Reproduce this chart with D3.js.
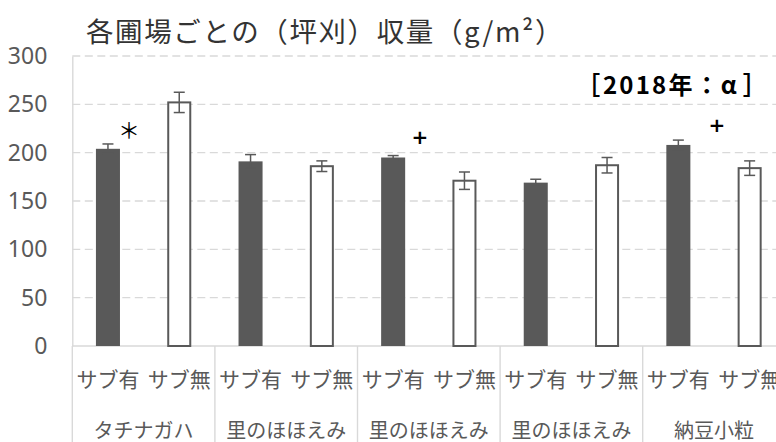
<!DOCTYPE html>
<html>
<head>
<meta charset="utf-8">
<script src="https://cdn.jsdelivr.net/npm/d3@7"></script>
<style>
  html, body { margin: 0; padding: 0; background: #fff; overflow: hidden; }
  svg { display: block; font-family: "Noto Sans CJK JP", "Noto Sans", sans-serif; }
</style>
</head>
<body>
<svg id="chart" width="776" height="442"></svg>
<script>
// Yield per field (tsubo-gari), g/m², 2018 season
const varieties = ["タチナガハ", "里のほほえみ", "里のほほえみ", "里のほほえみ", "納豆小粒"];
const treatments = ["サブ有", "サブ無"];
const withSub    = [204, 191, 195, 169, 208];
const withoutSub = [252, 186, 171, 187, 184];
const errWith    = [5, 7, 2, 3.5, 5];
const errWithout = [10.5, 5.5, 9, 8, 7.5];
const yTicks = [0, 50, 100, 150, 200, 250, 300];
const sigMarks = ["＊", "+", "+"];
const sigGroups = [0, 2, 4];
const sigLevels = [226, 216, 229];
const title = "各圃場ごとの（坪刈）収量（g/m²）";
const yearLabel = "2018年：α";

const rows = [];
varieties.forEach((v, i) => {
  rows.push({ g: i, t: treatments[0], value: withSub[i], err: errWith[i] });
  rows.push({ g: i, t: treatments[1], value: withoutSub[i], err: errWithout[i] });
});

const svg = d3.select("#chart");
const plot = { left: 72.3, top: 56, bottom: 346, groupW: 142.6 };

const x0 = d3.scaleBand()
  .domain(d3.range(varieties.length))
  .range([plot.left, plot.left + plot.groupW * varieties.length])
  .padding(0);
const x1 = d3.scaleBand()
  .domain(treatments)
  .range([0, x0.bandwidth()])
  .paddingInner(0.663)
  .paddingOuter(0.3315);
const y = d3.scaleLinear().domain([0, 300]).range([plot.bottom, plot.top]);

const grey = "#595959";
const light = "#d9d9d9";

// dashed horizontal gridlines
svg.append("g")
  .selectAll("line")
  .data(yTicks.filter(d => d > 0))
  .join("line")
  .attr("x1", plot.left).attr("x2", 776)
  .attr("y1", d => y(d)).attr("y2", d => y(d))
  .attr("stroke", light).attr("stroke-width", 1.4)
  .attr("stroke-dasharray", "8,4.5");

// y axis
const yAxis = svg.append("g")
  .attr("transform", `translate(${plot.left},0)`)
  .call(d3.axisLeft(y).tickValues(yTicks).tickSize(0).tickPadding(25));
yAxis.select(".domain").attr("stroke", light).attr("stroke-width", 1.4);
yAxis.selectAll("text")
  .attr("fill", grey)
  .style("font-size", "23px")
  .style("font-family", "'Noto Sans', sans-serif");

// category axis baseline and group separators
svg.append("line")
  .attr("x1", plot.left).attr("x2", 776)
  .attr("y1", plot.bottom).attr("y2", plot.bottom)
  .attr("stroke", light).attr("stroke-width", 1.4);
svg.append("g")
  .selectAll("line")
  .data(d3.range(varieties.length + 1))
  .join("line")
  .attr("x1", i => plot.left + i * plot.groupW)
  .attr("x2", i => plot.left + i * plot.groupW)
  .attr("y1", plot.bottom).attr("y2", 442)
  .attr("stroke", light).attr("stroke-width", 1.4);

// bars
const groups = svg.append("g")
  .selectAll("g")
  .data(rows)
  .join("g")
  .attr("transform", d => `translate(${x0(d.g) + x1(d.t)},0)`);

groups.append("rect")
  .attr("x", d => d.t === treatments[1] ? 1 : 0)
  .attr("width", d => d.t === treatments[1] ? x1.bandwidth() - 2 : x1.bandwidth())
  .attr("y", d => y(d.value))
  .attr("height", d => y(0) - y(d.value))
  .attr("fill", d => d.t === treatments[0] ? grey : "#fff")
  .attr("stroke", d => d.t === treatments[1] ? grey : "none")
  .attr("stroke-width", 2);

// error bars
const cap = 5.5;
const cx = x1.bandwidth() / 2;
groups.append("line")
  .attr("x1", cx).attr("x2", cx)
  .attr("y1", d => y(d.value + d.err)).attr("y2", d => y(d.value - d.err))
  .attr("stroke", grey).attr("stroke-width", 1.5);
groups.append("line")
  .attr("x1", cx - cap).attr("x2", cx + cap)
  .attr("y1", d => y(d.value + d.err)).attr("y2", d => y(d.value + d.err))
  .attr("stroke", grey).attr("stroke-width", 1.5);
groups.append("line")
  .attr("x1", cx - cap).attr("x2", cx + cap)
  .attr("y1", d => y(d.value - d.err)).attr("y2", d => y(d.value - d.err))
  .attr("stroke", grey).attr("stroke-width", 1.5);

// spread a text's glyphs so that its advance reaches the given width
function spreadTo(sel, width) {
  sel.each(function () {
    const t = d3.select(this);
    const n = t.text().length;
    const extra = width - this.getComputedTextLength();
    if (n > 1 && extra > 0) {
      const ls = extra / n;
      t.style("letter-spacing", ls + "px");
      if (t.attr("text-anchor") === "middle") t.attr("dx", ls / 2);
    }
  });
}

// treatment labels
svg.append("g")
  .selectAll("text")
  .data(rows)
  .join("text")
  .attr("x", d => x0(d.g) + x1(d.t) + x1.bandwidth() / 2)
  .attr("y", 378)
  .attr("text-anchor", "middle")
  .attr("dominant-baseline", "central")
  .attr("fill", grey)
  .style("font-size", "21px")
  .text(d => d.t)
  .call(spreadTo, 57);

// variety labels
svg.append("g")
  .selectAll("text")
  .data(varieties)
  .join("text")
  .attr("x", (d, i) => x0(i) + x0.bandwidth() / 2)
  .attr("y", 429)
  .attr("text-anchor", "middle")
  .attr("dominant-baseline", "central")
  .attr("fill", grey)
  .style("font-size", "20px")
  .text(d => d);

// significance marks, placed between the paired bars
const markOffset = [0.397, 0.438, 0.521];
svg.append("g")
  .selectAll("text")
  .data(sigMarks)
  .join("text")
  .attr("x", (d, i) => x0(sigGroups[i]) + markOffset[i] * x0.bandwidth())
  .attr("y", (d, i) => y(sigLevels[i]))
  .attr("text-anchor", "middle")
  .attr("dominant-baseline", "central")
  .attr("fill", "#000")
  .style("font-family", d => d === "+" ? "'DejaVu Sans', sans-serif" : null)
  .style("font-size", d => d === "+" ? "20px" : "22px")
  .style("font-weight", d => d === "+" ? "bold" : "normal")
  .text(d => d);

// title
svg.append("text")
  .attr("x", 86).attr("y", 30)
  .attr("dominant-baseline", "central")
  .attr("fill", "#333")
  .style("font-size", "27.5px")
  .text(title)
  .call(spreadTo, 478);

// year / variety tag in square brackets
const tagY = 82;
svg.append("text")
  .attr("x", 591).attr("y", tagY)
  .attr("dominant-baseline", "central")
  .attr("fill", "#000")
  .style("font-family", "'Noto Sans', sans-serif")
  .style("font-size", "28px")
  .text("[");
svg.append("text")
  .attr("x", 752).attr("y", tagY)
  .attr("text-anchor", "end")
  .attr("dominant-baseline", "central")
  .attr("fill", "#000")
  .style("font-family", "'Noto Sans', sans-serif")
  .style("font-size", "28px")
  .text("]");
svg.append("text")
  .attr("x", 603).attr("y", tagY + 1)
  .attr("dominant-baseline", "central")
  .attr("fill", "#000")
  .style("font-size", "24px")
  .style("font-weight", "bold")
  .text(yearLabel)
  .call(spreadTo, 136);
</script>
</body>
</html>
